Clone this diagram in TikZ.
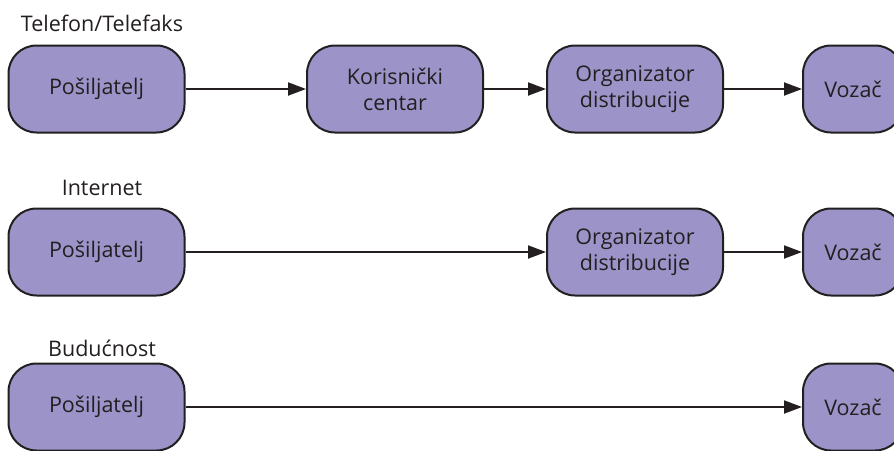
\documentclass[tikz,border=0pt]{standalone}
\usepackage{fontspec}
\setmainfont{Open Sans}
\usetikzlibrary{arrows.meta}
\definecolor{boxfill}{HTML}{9C94C8}
\definecolor{ink}{HTML}{231F20}
\tikzset{
  stage/.style={draw=ink, line width=2pt, fill=boxfill, rounded corners=28pt,
    minimum height=87pt, minimum width=176pt, align=center, text=ink,
    font=\fontsize{21.5}{26}\selectfont, inner sep=0pt},
  endstage/.style={stage, minimum width=100pt},
  flow/.style={draw=ink, line width=2pt, -{Triangle[length=18pt,width=13pt]}},
  rowlabel/.style={text=ink, font=\fontsize{21.5}{26}\selectfont, inner sep=0pt}
}
\begin{document}
\begin{tikzpicture}[x=1pt,y=-1pt]
  \clip (0,0) rectangle (894,450);
  \useasboundingbox (0,0) rectangle (894,450);

  % Telefon/Telefaks
  \node[rowlabel] (l1) at (102,23) {Telefon/Telefaks};
  \node[stage] (s1) at (96.5,89) {Pošiljatelj};
  \node[stage] (k1) at (395,89) {Korisnički\\centar};
  \node[stage] (o1) at (635,89) {Organizator\\distribucije};
  \node[endstage] (v1) at (853,89) {Vozač};
  \draw[flow] (s1) -- (k1);
  \draw[flow] (k1) -- (o1);
  \draw[flow] (o1) -- (v1);

  % Internet
  \node[rowlabel] (l2) at (102,188) {Internet};
  \node[stage] (s2) at (96.5,252) {Pošiljatelj};
  \node[stage] (o2) at (635,252) {Organizator\\distribucije};
  \node[endstage] (v2) at (853,252) {Vozač};
  \draw[flow] (s2) -- (o2);
  \draw[flow] (o2) -- (v2);

  % Budućnost
  \node[rowlabel] (l3) at (102,348) {Budućnost};
  \node[stage] (s3) at (96.5,407) {Pošiljatelj};
  \node[endstage] (v3) at (853,407) {Vozač};
  \draw[flow] (s3) -- (v3);
\end{tikzpicture}
\end{document}
